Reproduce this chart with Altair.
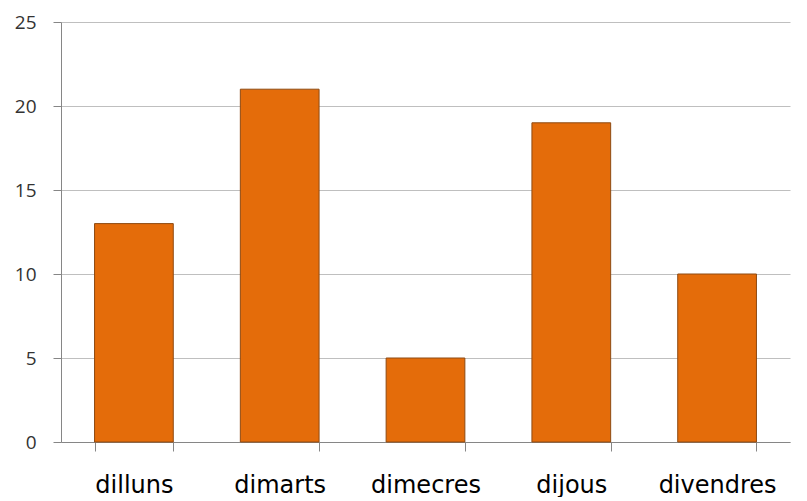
import altair as alt
import pandas as pd

days = ["dilluns", "dimarts", "dimecres", "dijous", "divendres"]
values = [13, 21, 5, 19, 10]
y_ticks = [0, 5, 10, 15, 20, 25]

df = pd.DataFrame({"day": days, "value": values})

chart = alt.Chart(df).mark_bar(
    color="#E46C0A", stroke="#8E4A12", strokeWidth=1
).encode(
    x=alt.X("day:N", sort=days, title=None,
            scale=alt.Scale(paddingInner=0.46, paddingOuter=0.23),
            axis=alt.Axis(labelAngle=0, tickBand="extent", tickSize=9,
                          tickColor="#868686", domainColor="#868686",
                          labelFont="DejaVu Sans", labelFontSize=24,
                          labelColor="#000000", labelPadding=22, grid=False)),
    y=alt.Y("value:Q", title=None,
            scale=alt.Scale(domain=[0, 25], nice=False),
            axis=alt.Axis(values=y_ticks, tickSize=8, tickColor="#868686",
                          domainColor="#868686", gridColor="#BFBFBF",
                          labelFont="Open Sans", labelFontSize=19,
                          labelColor="#333333", labelPadding=17))
).properties(
    width=729, height=420,
    autosize=alt.AutoSizeParams(type="none"),
    padding={"left": 53, "top": 14, "right": 8, "bottom": 55}
).configure_view(stroke=None)

chart.save("out.html", embed_options={"renderer": "svg", "actions": False})
